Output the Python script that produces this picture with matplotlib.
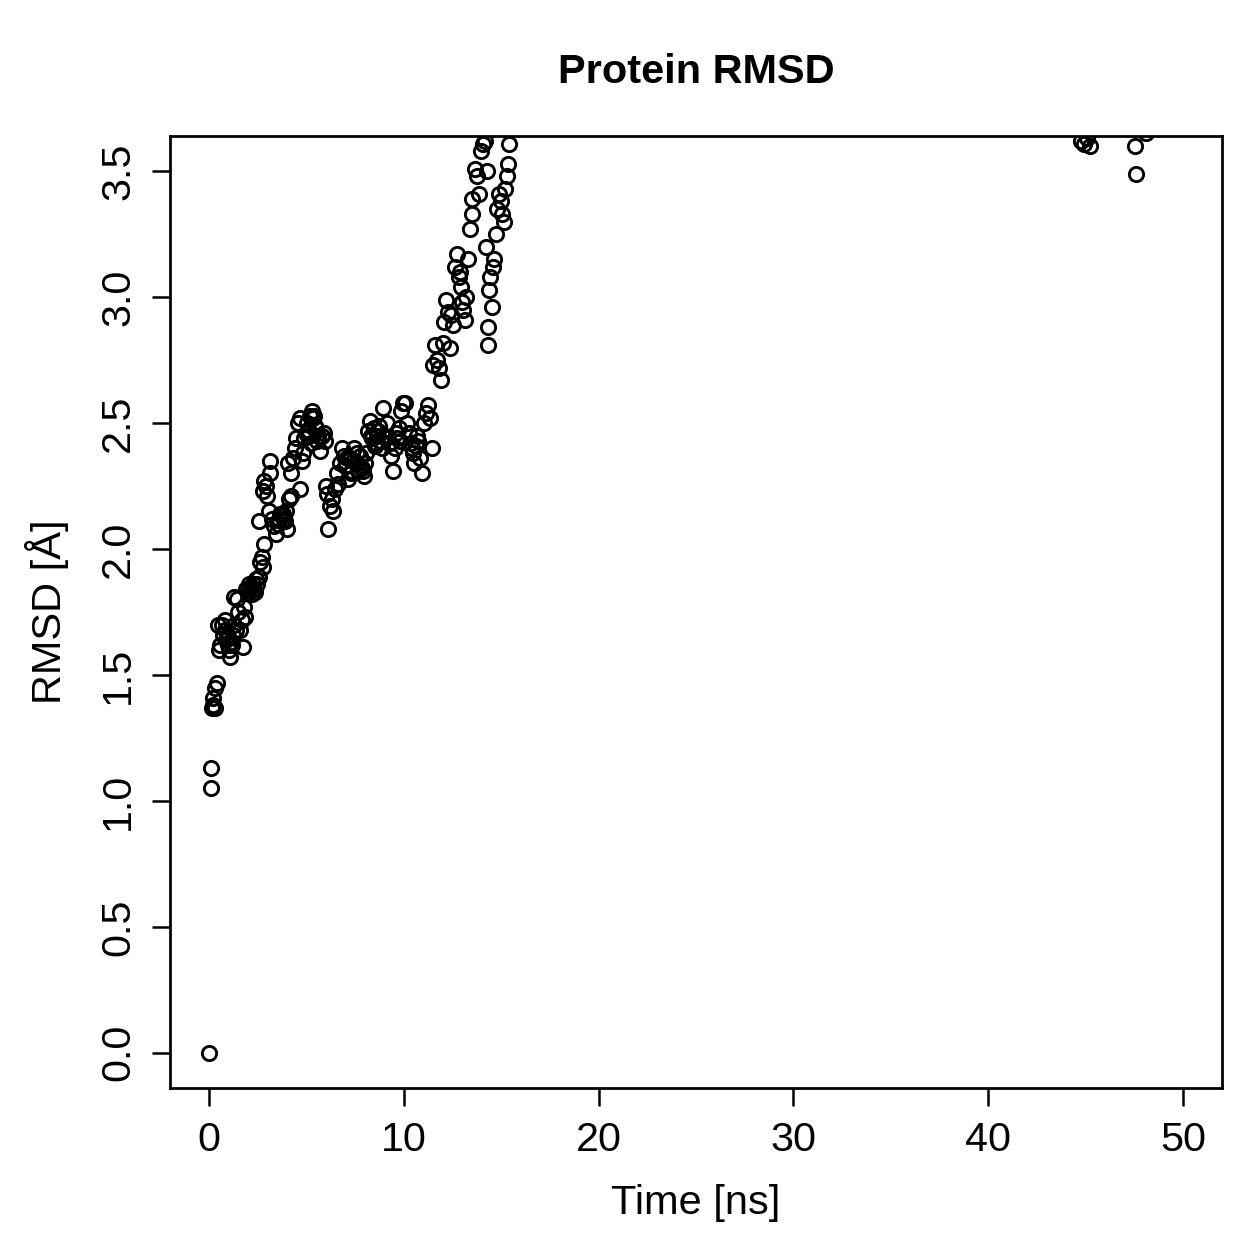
import matplotlib
matplotlib.use("Agg")
import matplotlib.pyplot as plt
import numpy as np

# time [ns] and protein RMSD [A]
time_ns = [
    0.00, 0.10, 0.12, 0.15, 0.20, 0.22, 0.30, 0.32, 0.40, 0.45,
    0.50, 0.55, 0.65, 0.70, 0.80, 0.85, 0.90, 1.00, 1.05, 1.10,
    1.15, 1.25, 1.30, 1.30, 1.45, 1.50, 1.60, 1.70, 1.75, 1.80,
    1.85, 1.90, 2.00, 2.05, 2.15, 2.20, 2.30, 2.40, 2.45, 2.55,
    2.60, 2.70, 2.75, 2.85, 2.55, 2.80, 2.85, 2.95, 3.00, 3.15,
    3.15, 3.10, 3.25, 3.35, 3.45, 3.55, 3.65, 3.75, 3.85, 3.95,
    4.00, 4.10, 4.20, 4.05, 4.20, 4.30, 4.40, 4.45, 4.55, 4.70,
    4.65, 4.80, 4.85, 4.90, 5.00, 5.10, 5.20, 5.30, 5.35, 5.45,
    5.55, 5.60, 5.70, 5.80, 5.90, 5.95, 6.00, 6.05, 6.10, 6.20,
    6.30, 6.35, 6.45, 6.55, 6.65, 6.75, 6.85, 6.95, 7.05, 7.15,
    7.25, 7.35, 7.45, 7.55, 7.65, 7.75, 7.85, 7.95, 8.05, 8.15,
    8.25, 8.35, 8.45, 8.55, 8.65, 8.75, 8.85, 8.95, 9.05, 9.15,
    9.25, 9.35, 9.45, 9.55, 9.65, 9.75, 9.85, 9.95, 10.05, 10.15,
    10.25, 10.35, 10.45, 10.55, 10.65, 10.75, 10.85, 10.95, 11.05, 11.15,
    11.25, 11.35, 11.45, 11.50, 11.60, 11.70, 11.80, 11.90, 12.00, 12.05,
    12.15, 12.25, 12.35, 12.45, 12.55, 12.65, 12.75, 12.85, 12.95, 13.05,
    13.15, 13.20, 13.30, 13.40, 13.50, 13.50, 13.65, 13.75, 13.85, 13.95,
    14.05, 14.15, 14.25, 14.20, 14.30, 14.35, 14.40, 14.45, 14.55, 14.60,
    14.65, 14.75, 14.80, 14.90, 15.00, 15.05, 15.15, 15.20, 15.30, 15.35,
    15.40, 44.75, 44.90, 45.05, 45.20, 47.55, 47.60, 48.10,
    # extra points in the crowded clusters
    0.95, 1.20, 1.40, 2.10, 2.25, 2.35, 3.60, 3.80, 3.90,
    5.05, 5.15, 5.25, 5.40, 5.50,
    7.00, 7.10, 7.30, 7.40, 7.60, 7.70, 7.90, 8.00,
    8.30, 8.50, 8.70, 8.90, 9.10, 9.30, 9.60, 9.80, 10.40, 10.70,
    12.90, 13.00,
]
rmsd = [
    0.00, 1.05, 1.13, 1.37, 1.38, 1.41, 1.37, 1.45, 1.47, 1.70,
    1.60, 1.62, 1.70, 1.66, 1.72, 1.68, 1.64, 1.62, 1.60, 1.57,
    1.63, 1.66, 1.70, 1.81, 1.80, 1.75, 1.68, 1.72, 1.61, 1.77,
    1.73, 1.84, 1.83, 1.86, 1.85, 1.82, 1.84, 1.88, 1.86, 1.89,
    1.95, 1.97, 1.93, 2.02, 2.11, 2.23, 2.27, 2.25, 2.21, 2.30,
    2.35, 2.15, 2.12, 2.09, 2.06, 2.10, 2.14, 2.13, 2.12, 2.15,
    2.08, 2.20, 2.21, 2.34, 2.30, 2.36, 2.40, 2.44, 2.50, 2.52,
    2.24, 2.35, 2.38, 2.44, 2.46, 2.45, 2.53, 2.55, 2.52, 2.49,
    2.43, 2.45, 2.39, 2.45, 2.46, 2.43, 2.25, 2.22, 2.08, 2.17,
    2.20, 2.15, 2.24, 2.30, 2.26, 2.34, 2.40, 2.37, 2.33, 2.28,
    2.36, 2.31, 2.40, 2.34, 2.31, 2.37, 2.32, 2.29, 2.38, 2.47,
    2.51, 2.44, 2.48, 2.41, 2.45, 2.49, 2.43, 2.56, 2.45, 2.50,
    2.42, 2.37, 2.31, 2.40, 2.44, 2.48, 2.55, 2.58, 2.58, 2.50,
    2.46, 2.42, 2.38, 2.34, 2.41, 2.43, 2.36, 2.30, 2.50, 2.54,
    2.57, 2.52, 2.40, 2.73, 2.81, 2.75, 2.72, 2.67, 2.82, 2.90,
    2.99, 2.94, 2.80, 2.93, 2.89, 3.12, 3.17, 3.08, 3.04, 2.95,
    2.91, 3.00, 3.15, 3.27, 3.33, 3.39, 3.51, 3.48, 3.41, 3.58,
    3.61, 3.62, 3.50, 3.20, 2.81, 2.88, 3.03, 3.08, 2.96, 3.12,
    3.15, 3.25, 3.35, 3.41, 3.38, 3.33, 3.30, 3.43, 3.48, 3.53,
    3.61, 3.62, 3.61, 3.63, 3.60, 3.60, 3.49, 3.65,
    1.65, 1.62, 1.68, 1.84, 1.86, 1.83, 2.12, 2.14, 2.11,
    2.50, 2.47, 2.42, 2.53, 2.48,
    2.33, 2.36, 2.30, 2.35, 2.38, 2.33, 2.31, 2.34,
    2.45, 2.42, 2.47, 2.40, 2.44, 2.42, 2.46, 2.43, 2.40, 2.45,
    3.10, 2.98,
]

x_ticks = [0, 10, 20, 30, 40, 50]
y_ticks = [0.0, 0.5, 1.0, 1.5, 2.0, 2.5, 3.0, 3.5]

plt.rcParams['font.family'] = ['Liberation Sans', 'DejaVu Sans']

fig = plt.figure(figsize=(1259 / 180, 1259 / 180), dpi=180)
ax = fig.add_axes([0.135, 0.1358, 0.8356, 0.7562])

ax.plot(time_ns, rmsd, linestyle='none', marker='o', markersize=5.7,
        markerfacecolor='none', markeredgecolor='black', markeredgewidth=1.15)

# R style: 4% padding around the data range
ax.set_xlim(-2, 52)
ax.set_ylim(-0.14, 3.64)
ax.set_xticks(x_ticks)
ax.set_xticklabels([str(v) for v in x_ticks])
ax.set_yticks(y_ticks)
ax.set_yticklabels(['%.1f' % v for v in y_ticks], rotation=90, va='center')

for s in ax.spines.values():
    s.set_linewidth(1.1)
ax.tick_params(direction='out', length=7.2, width=1.0, labelsize=16.5, pad=6)

ax.set_xlabel('Time [ns]', fontsize=16.6, labelpad=10)
ax.set_ylabel('RMSD [Å]', fontsize=16.6, labelpad=12)
ax.set_title('Protein RMSD', fontsize=16.6, fontweight='bold', pad=21)

fig.savefig('out.png', dpi=180)
